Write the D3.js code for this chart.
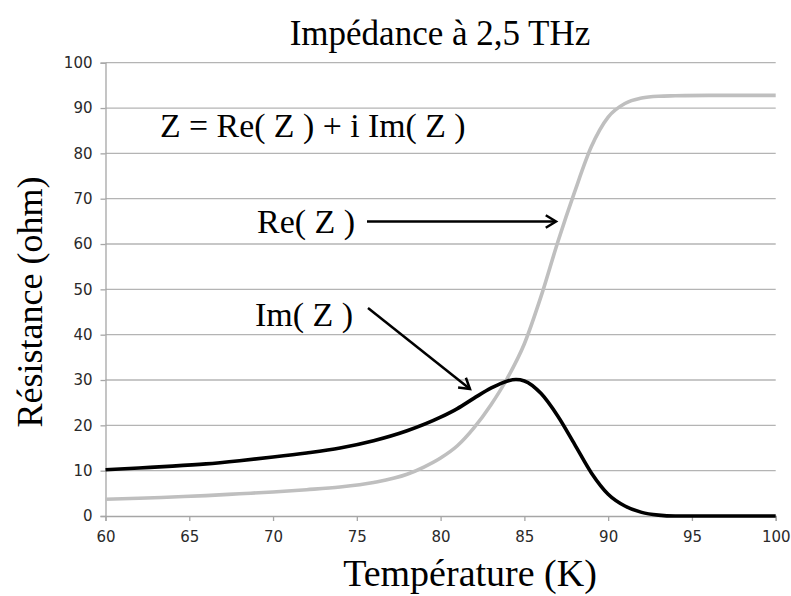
<!DOCTYPE html>
<html lang="fr">
<head>
<meta charset="UTF-8">
<title>Impédance à 2,5 THz</title>
<script src="https://d3js.org/d3.v7.min.js"></script>
<style>
  body { margin: 0; background: #fff; }
  .serif { font-family: "Liberation Serif", "Times New Roman", serif; fill: #000; }
</style>
</head>
<body>
<script>
// temperature (K)
const tempRe = [60, 62, 64, 66, 68, 70, 72, 74, 76, 78, 79, 80, 81, 82, 83, 84, 85, 86, 87, 88, 89, 90, 91, 92, 93, 94, 96, 100];
const reZ    = [3.7, 3.9, 4.2, 4.5, 4.9, 5.3, 5.8, 6.4, 7.4, 9.2, 10.8, 12.8, 15.5, 19.5, 24.5, 30.5, 38, 48.5, 60.5, 71.5, 81.5, 88, 91, 92.2, 92.6, 92.7, 92.8, 92.8];

const tempIm = [60, 62, 64, 66, 68, 70, 72, 74, 76, 78, 80, 81, 82, 83, 84, 84.5, 85, 86, 87, 88, 89, 90, 91, 92, 93, 94, 100];
const imZ    = [10.2, 10.6, 11.0, 11.5, 12.2, 13.0, 13.9, 15.0, 16.6, 18.8, 21.8, 23.7, 26.0, 28.2, 29.8, 30.1, 29.8, 27.0, 22.0, 15.8, 9.5, 4.8, 2.2, 0.8, 0.2, 0, 0];

const xTicks = [60, 65, 70, 75, 80, 85, 90, 95, 100];
const yTicks = [0, 10, 20, 30, 40, 50, 60, 70, 80, 90, 100];

const W = 791, H = 596;
const m = { left: 105.5, right: 775.7, top: 62.7, bottom: 516 };

const svg = d3.select("body").append("svg")
    .attr("width", W)
    .attr("height", H);

const x = d3.scaleLinear().domain([60, 100]).range([m.left, m.right]);
const y = d3.scaleLinear().domain([0, 100]).range([m.bottom, m.top]);

// horizontal grid
svg.append("g")
    .selectAll("line")
    .data(yTicks.filter(d => d > 0))
    .enter().append("line")
    .attr("x1", m.left).attr("x2", m.right)
    .attr("y1", d => y(d)).attr("y2", d => y(d))
    .attr("stroke", "#b4b4b4")
    .attr("stroke-width", 1.3);

// axes
const yAxis = svg.append("g")
    .attr("transform", `translate(${m.left},0)`)
    .call(d3.axisLeft(y).tickValues(yTicks).tickSize(5).tickPadding(8));
const xAxis = svg.append("g")
    .attr("transform", `translate(0,${m.bottom})`)
    .call(d3.axisBottom(x).tickValues(xTicks).tickSize(5).tickPadding(10));
[yAxis, xAxis].forEach(a => {
    a.select(".domain").attr("stroke", "#a6a6a6").attr("stroke-width", 1.3);
    a.selectAll(".tick line").attr("stroke", "#a6a6a6").attr("stroke-width", 1.3);
    a.selectAll(".tick text")
        .style("font-family", "'DejaVu Sans', sans-serif")
        .style("font-size", "15px")
        .style("fill", "#2a2a2a");
});

// curves
const line = d3.line().curve(d3.curveMonotoneX);
svg.append("path")
    .attr("d", line(tempRe.map((t, i) => [x(t), y(reZ[i])])))
    .attr("fill", "none")
    .attr("stroke", "#bfbfbf")
    .attr("stroke-width", 3.6);
svg.append("path")
    .attr("d", line(tempIm.map((t, i) => [x(t), y(imZ[i])])))
    .attr("fill", "none")
    .attr("stroke", "#000")
    .attr("stroke-width", 3.6);

// title and axis labels
svg.append("text").attr("class", "serif")
    .attr("x", 440).attr("y", 45)
    .attr("text-anchor", "middle")
    .attr("font-size", 35)
    .text("Impédance à 2,5 THz");
svg.append("text").attr("class", "serif")
    .attr("x", 470).attr("y", 586)
    .attr("text-anchor", "middle")
    .attr("font-size", 38)
    .text("Température (K)");
svg.append("text").attr("class", "serif")
    .attr("transform", "translate(42,302) rotate(-90)")
    .attr("text-anchor", "middle")
    .attr("font-size", 36)
    .text("Résistance (ohm)");

// annotations
svg.append("text").attr("class", "serif")
    .attr("x", 160).attr("y", 137)
    .attr("font-size", 33.8)
    .text("Z = Re( Z ) + i Im( Z )");
svg.append("text").attr("class", "serif")
    .attr("x", 257).attr("y", 233)
    .attr("font-size", 34)
    .text("Re( Z )");
svg.append("text").attr("class", "serif")
    .attr("x", 255).attr("y", 326)
    .attr("font-size", 34)
    .text("Im( Z )");

function arrow(x1, y1, x2, y2) {
    const a = Math.atan2(y2 - y1, x2 - x1);
    const h = 12, s = 0.55;
    svg.append("line")
        .attr("x1", x1).attr("y1", y1).attr("x2", x2).attr("y2", y2)
        .attr("stroke", "#000").attr("stroke-width", 2.5);
    svg.append("path")
        .attr("d", `M${x2 - h * Math.cos(a - s)},${y2 - h * Math.sin(a - s)}L${x2},${y2}L${x2 - h * Math.cos(a + s)},${y2 - h * Math.sin(a + s)}`)
        .attr("fill", "none").attr("stroke", "#000").attr("stroke-width", 2.5)
        .attr("stroke-linejoin", "miter");
}
arrow(367, 221.5, 556, 221.5);
arrow(368, 308, 470, 389);
</script>
</body>
</html>
